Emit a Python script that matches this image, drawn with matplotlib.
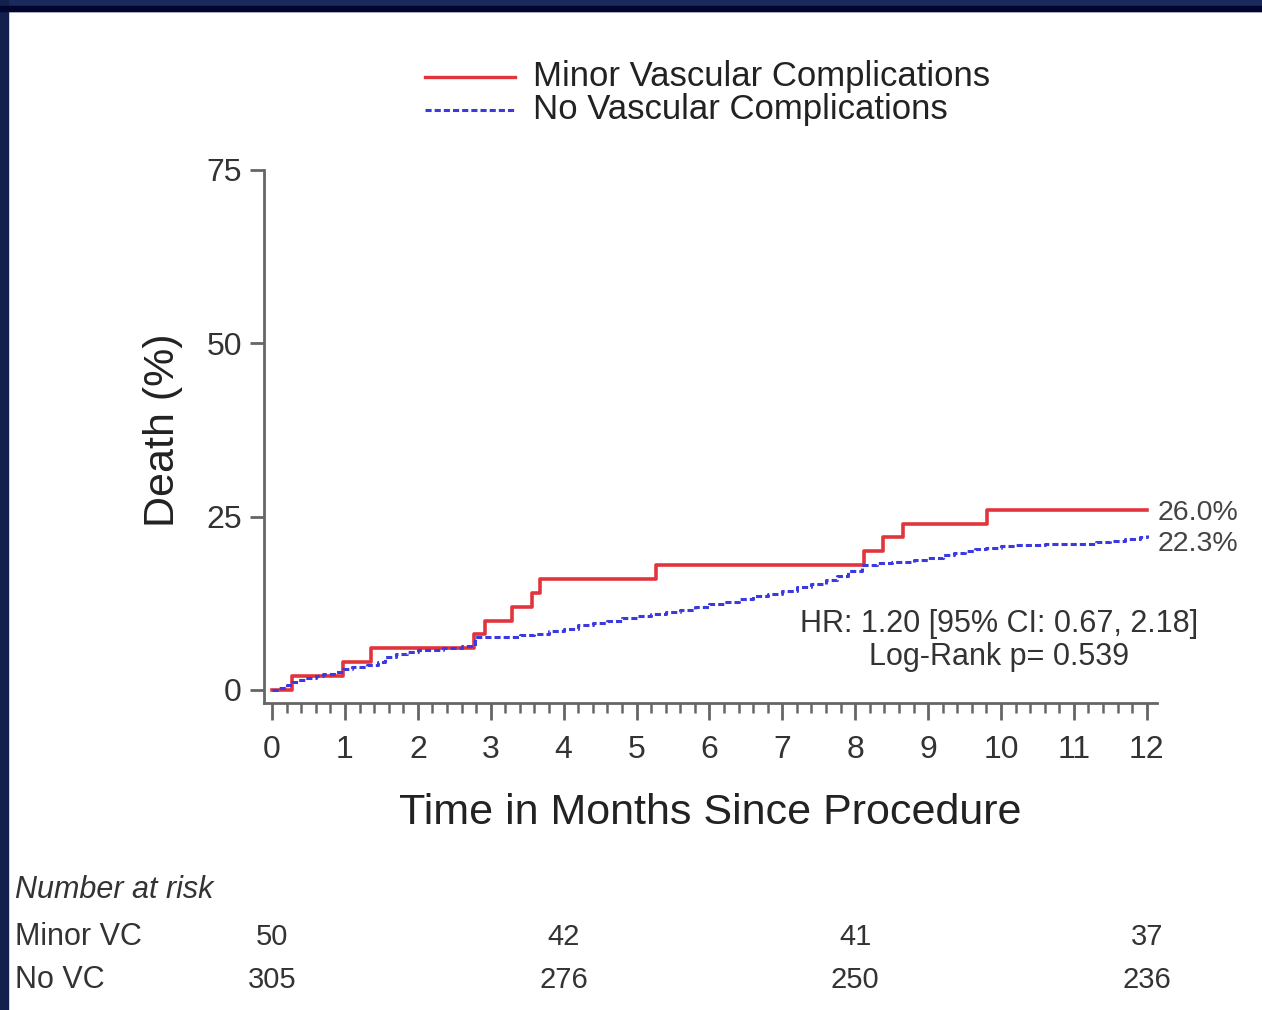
import matplotlib
matplotlib.use("Agg")
import matplotlib.pyplot as plt
from matplotlib.lines import Line2D
from matplotlib.patches import Rectangle
from matplotlib.transforms import blended_transform_factory

plt.rcParams['font.family'] = ['Liberation Sans', 'DejaVu Sans']

# Minor vascular complications: KM cumulative death (%), step times in months
minor_t = [0, 0.27, 0.98, 1.36, 2.77, 2.92, 3.29, 3.57, 3.68, 5.27, 8.12, 8.38, 8.65, 9.81, 12.0]
minor_v = [0, 2, 4, 6, 8, 10, 12, 14, 16, 18, 20, 22, 24, 26, 26]

# No vascular complications
none_t = [0, 0.1, 0.2, 0.27, 0.35, 0.45, 0.6, 0.7, 0.85, 0.97, 1.1, 1.3, 1.45, 1.55, 1.7,
          1.85, 2.0, 2.35, 2.6, 2.78, 3.2, 3.4, 3.6, 3.8, 4.0, 4.2, 4.4, 4.6, 4.8, 5.0,
          5.2, 5.4, 5.6, 5.8, 6.0, 6.2, 6.4, 6.6, 6.8, 7.0, 7.2, 7.4, 7.6, 7.75, 7.9,
          8.1, 8.3, 8.5, 8.8, 9.0, 9.2, 9.35, 9.5, 9.65, 9.8, 10.0, 10.2, 10.6, 11.0, 11.3,
          11.5, 11.7, 11.9, 12.0]
none_v = [0, 0.3, 0.7, 1.2, 1.5, 1.7, 2.0, 2.3, 2.6, 3.0, 3.3, 3.6, 4.0, 4.8, 5.2,
          5.5, 5.8, 6.1, 6.4, 7.6, 7.7, 7.9, 8.1, 8.5, 8.8, 9.3, 9.6, 10.0, 10.4, 10.7,
          11.0, 11.3, 11.6, 12.0, 12.4, 12.7, 13.1, 13.5, 13.9, 14.3, 14.8, 15.3, 15.8, 16.4, 17.2,
          18.0, 18.3, 18.5, 18.8, 19.1, 19.4, 19.7, 20.0, 20.3, 20.5, 20.7, 20.9, 21.0, 21.1, 21.3,
          21.5, 21.8, 22.1, 22.3]

series_labels = ['Minor Vascular Complications', 'No Vascular Complications']
final_labels = ['26.0%', '22.3%']

risk_times = [0, 4, 8, 12]
risk_rows = ['Minor VC', 'No VC']
risk_minor = [50, 42, 41, 37]
risk_none = [305, 276, 250, 236]

red = '#e2343c'
blue = '#3a3ae0'
grey = '#333333'

fig = plt.figure(figsize=(12.62, 10.1), dpi=100)
fig.patch.set_facecolor('white')

# dark slide frame along top and left
fig.add_artist(Rectangle((0, 0.9892), 1, 0.0108, transform=fig.transFigure, color='#1a2a5c', zorder=10))
fig.add_artist(Rectangle((0, 0.9892), 1, 0.005, transform=fig.transFigure, color='#02052e', zorder=11))
fig.add_artist(Rectangle((0, 0), 0.0064, 1, transform=fig.transFigure, color='#13204d', zorder=10))

ax = fig.add_axes([0.2092, 0.3040, 0.7076, 0.5277])
ax.step(minor_t, minor_v, where='post', color=red, lw=2.6, zorder=3)
ax.step(none_t, none_v, where='post', color=blue, lw=2.2, ls=(0, (2, 1)), zorder=4)

ax.set_xlim(-0.11, 12.14)
ax.set_ylim(-1.875, 75)
ax.set_xticks(range(0, 13))
ax.set_xticks([i * 0.2 for i in range(61)], minor=True)
ax.set_yticks([0, 25, 50, 75])

for s in ['top', 'right']:
    ax.spines[s].set_visible(False)
for s in ['left', 'bottom']:
    ax.spines[s].set_color('#666666')
    ax.spines[s].set_linewidth(2)

ax.tick_params(axis='both', which='major', labelsize=23, colors='#666666', labelcolor=grey, width=2)
ax.tick_params(axis='x', which='major', length=12, pad=11)
ax.tick_params(axis='x', which='minor', length=7, width=1.8, colors='#666666')
ax.tick_params(axis='y', which='major', length=10, pad=6)

ax.set_xlabel('Time in Months Since Procedure', fontsize=31, color='#222222', va='top')
ax.xaxis.set_label_coords(0.5, -0.169)
ax.set_ylabel('Death (%)', fontsize=31, color='#222222', va='center')
ax.yaxis.set_label_coords(-0.113, 0.512)

# end-of-curve labels
ax.text(12.15, 25.5, final_labels[0], fontsize=20.5, color='#444444', va='center', ha='left')
ax.text(12.15, 21.1, final_labels[1], fontsize=20.5, color='#444444', va='center', ha='left')

ax.text(9.97, 9.5, 'HR: 1.20 [95% CI: 0.67, 2.18]', fontsize=22, color=grey, ha='center', va='center')
ax.text(9.97, 4.76, 'Log-Rank p= 0.539', fontsize=22, color=grey, ha='center', va='center')

# legend drawn in figure coordinates
fig.add_artist(Line2D([0.3368, 0.4081], [0.9238, 0.9238], transform=fig.transFigure, color=red, lw=2.4))
fig.add_artist(Line2D([0.3368, 0.4081], [0.8911, 0.8911], transform=fig.transFigure, color=blue, lw=2.2, ls=(0, (2, 1))))
fig.text(0.4223, 0.9238, series_labels[0], fontsize=25, color='#222222', va='center', ha='left')
fig.text(0.4223, 0.8911, series_labels[1], fontsize=25, color='#222222', va='center', ha='left')

# number at risk table
fig.text(0.012, 0.1188, 'Number at risk', fontsize=22, style='italic', color=grey, va='center')
fig.text(0.012, 0.0723, risk_rows[0], fontsize=22, color=grey, va='center')
fig.text(0.012, 0.0297, risk_rows[1], fontsize=22, color=grey, va='center')
tr = blended_transform_factory(ax.transData, fig.transFigure)
for t, a, b in zip(risk_times, risk_minor, risk_none):
    ax.text(t, 0.0723, str(a), transform=tr, fontsize=21, color=grey, ha='center', va='center', clip_on=False)
    ax.text(t, 0.0297, str(b), transform=tr, fontsize=21, color=grey, ha='center', va='center', clip_on=False)

fig.savefig('out.png', dpi=100)
